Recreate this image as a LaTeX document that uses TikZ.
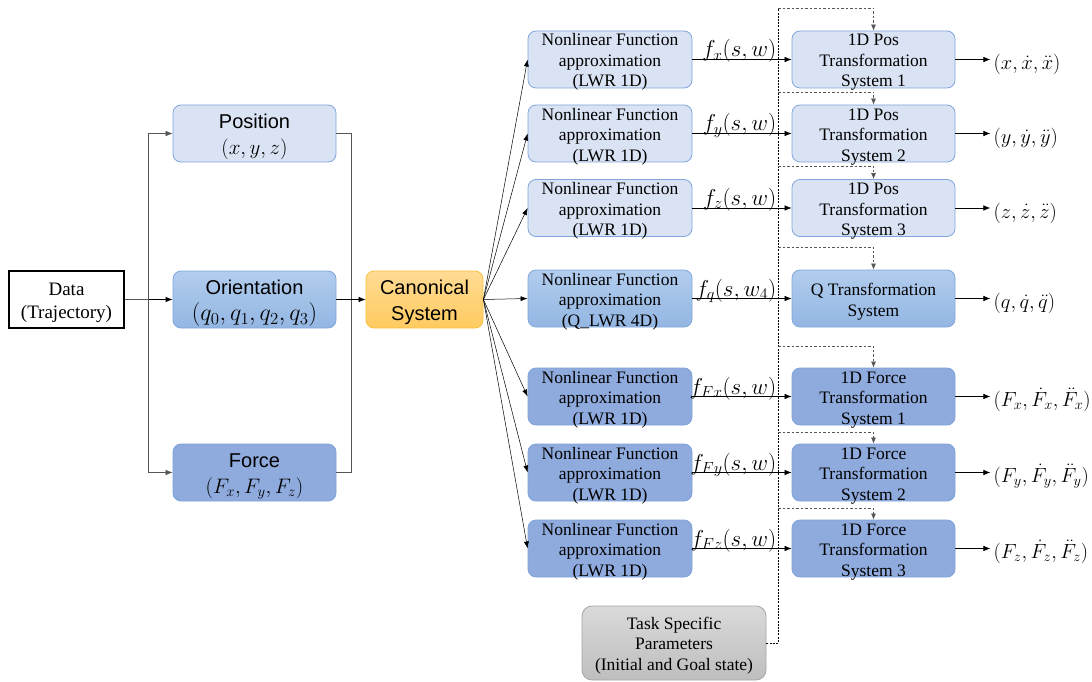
\RequirePackage{fix-cm}
\documentclass[tikz,border=0pt]{standalone}
\usepackage{fontspec}
\setmainfont{Liberation Serif}
\setsansfont{Liberation Sans}
\usetikzlibrary{arrows.meta,calc}

\definecolor{lblue}{HTML}{DAE3F3}
\definecolor{lborder}{HTML}{7FA7DC}
\definecolor{gtop}{HTML}{B2CDEE}
\definecolor{gbot}{HTML}{93B6E2}
\definecolor{fblue}{HTML}{8FAADC}
\definecolor{fborder}{HTML}{7DA2DA}
\definecolor{otop}{HTML}{FFDB94}
\definecolor{obot}{HTML}{FFCB60}
\definecolor{oborder}{HTML}{F9C23C}
\definecolor{grtop}{HTML}{DADADA}
\definecolor{grbot}{HTML}{BEBEBE}
\definecolor{grborder}{HTML}{A6A6A6}
\definecolor{wire}{HTML}{555555}

\tikzset{
  % text height/depth fix where the text block sits inside each box
  box/.style={rounded corners=8pt, minimum width=163pt, minimum height=57pt,
    inner sep=0pt, align=center, line width=0.8pt,
    text height=55pt, text depth=0pt,
    font=\fontsize{17.5}{20.5}\selectfont},
  twolines/.style={text height=35pt},
  lightbox/.style={box, draw=lborder, fill=lblue},
  gradbox/.style={box, draw=lborder, top color=gtop, bottom color=gbot},
  forcebox/.style={box, draw=fborder, fill=fblue},
  nfbox/.style={minimum width=164pt},
  sidebox/.style={font=\sffamily\fontsize{20}{26}\selectfont, text height=41pt},
  databox/.style={draw=black, fill=white, line width=1.1pt, minimum width=115pt,
    minimum height=57pt, inner sep=0pt, align=center,
    text height=37pt, text depth=0pt,
    font=\fontsize{19}{23}\selectfont},
  canonbox/.style={rounded corners=8pt, minimum width=117pt, minimum height=57pt,
    inner sep=0pt, align=center, line width=0.8pt, draw=oborder,
    text height=41pt, text depth=0pt,
    top color=otop, bottom color=obot, font=\sffamily\fontsize{20}{26}\selectfont},
  taskbox/.style={rounded corners=10pt, minimum width=184pt, minimum height=74pt,
    inner sep=0pt, align=center, line width=0.8pt, draw=grborder,
    text height=54pt, text depth=0pt,
    top color=grtop, bottom color=grbot, font=\fontsize{17.5}{20.5}\selectfont},
  arr/.style={-{Latex[length=7pt,width=5.5pt]}, line width=0.6pt, black},
  wireline/.style={line width=0.6pt, wire},
  fanline/.style={-{Latex[length=7pt,width=5pt]}, line width=0.5pt, black},
  flbl/.style={pos=1, anchor=base east, xshift=-15pt, yshift=2.5pt, inner sep=0pt,
    font=\fontsize{23}{26}\selectfont},
  outlbl/.style={anchor=base west, xshift=3pt, yshift=-10pt, inner sep=0pt,
    font=\fontsize{20.5}{24}\selectfont},
  busline/.style={line width=1pt, black, dash pattern=on 2pt off 1.2pt},
  tapline/.style={line width=0.7pt, wire, dash pattern=on 2.5pt off 2pt,
    -{Latex[length=6pt,width=5pt]}},
}

\begin{document}
\begin{tikzpicture}[x=1pt,y=-1pt]
\useasboundingbox (0,0) rectangle (1092,682);

% input data and its three channels
\node[databox] (data) at (66.5,299.5) {Data\\(Trajectory)};
\node[lightbox, sidebox] (pos) at (254.5,133.5)
  {Position\\{\fontsize{21}{26}\selectfont$(x,y,z)$}};
\node[gradbox, sidebox, text height=42pt] (ori) at (254.5,299.5)
  {Orientation\\{\fontsize{24}{26}\selectfont$(q_0,q_1,q_2,q_3)$}};
\node[forcebox, sidebox] (frc) at (254.5,472.5)
  {Force\\{\fontsize{21}{26}\selectfont$(F_x,F_y,F_z)$}};
\node[canonbox] (can) at (424.5,299.5) {Canonical\\System};

% nonlinear function approximators
\node[lightbox, nfbox] (nf1) at (610,59.5) {Nonlinear Function\\approximation\\(LWR 1D)};
\node[lightbox, nfbox] (nf2) at (610,133.5) {Nonlinear Function\\approximation\\(LWR 1D)};
\node[lightbox, nfbox] (nf3) at (610,208) {Nonlinear Function\\approximation\\(LWR 1D)};
\node[gradbox, nfbox] (nf4) at (610,298.5) {Nonlinear Function\\approximation\\(Q\_LWR 4D)};
\node[forcebox, nfbox] (nf5) at (610,396.5) {Nonlinear Function\\approximation\\(LWR 1D)};
\node[forcebox, nfbox] (nf6) at (610,472.5) {Nonlinear Function\\approximation\\(LWR 1D)};
\node[forcebox, nfbox] (nf7) at (610,548.5) {Nonlinear Function\\approximation\\(LWR 1D)};

% transformation systems
\node[lightbox] (tr1) at (873.5,59.5) {1D Pos\\Transformation\\System 1};
\node[lightbox] (tr2) at (873.5,133.5) {1D Pos\\Transformation\\System 2};
\node[lightbox] (tr3) at (873.5,208) {1D Pos\\Transformation\\System 3};
\node[gradbox, twolines] (tr4) at (873.5,298.5) {Q Transformation\\System};
\node[forcebox] (tr5) at (873.5,396.5) {1D Force\\Transformation\\System 1};
\node[forcebox] (tr6) at (873.5,472.5) {1D Force\\Transformation\\System 2};
\node[forcebox] (tr7) at (873.5,548.5) {1D Force\\Transformation\\System 3};

% task parameters
\node[taskbox] (task) at (674,643) {Task Specific\\Parameters\\(Initial and Goal state)};

% data split into the three channels
\draw[arr, line width=0.8pt] (data.east) -- (ori.west);
\draw[arr, wire] (data.east) -- ++(24,0) |- (pos.west);
\draw[arr, wire] (data.east) -- ++(24,0) |- (frc.west);
\draw[wireline] (pos.east) -- ++(15,0) |- (frc.east);
\draw[arr] (ori.east) -- (can.west);

% canonical system drives every approximator
\foreach \k in {1,...,7} {
  \draw[fanline] (can.east) -- (nf\k.west);
}

% forcing terms
\draw[arr] (nf1.east) -- node[flbl] {$f_x(s,w)$} (tr1.west);
\draw[arr] (nf2.east) -- node[flbl] {$f_y(s,w)$} (tr2.west);
\draw[arr] (nf3.east) -- node[flbl] {$f_z(s,w)$} (tr3.west);
\draw[arr] (nf4.east) -- node[flbl] {$f_q(s,w_4)$} (tr4.west);
\draw[arr] (nf5.east) -- node[flbl] {$f_{Fx}(s,w)$} (tr5.west);
\draw[arr] (nf6.east) -- node[flbl] {$f_{Fy}(s,w)$} (tr6.west);
\draw[arr] (nf7.east) -- node[flbl] {$f_{Fz}(s,w)$} (tr7.west);

% outputs
\draw[arr] (tr1.east) -- ++(35,0) node[outlbl] (o1) {$(x,\dot{x},\ddot{x})$};
\draw[arr] (tr2.east) -- ++(35,0) node[outlbl] (o2) {$(y,\dot{y},\ddot{y})$};
\draw[arr] (tr3.east) -- ++(35,0) node[outlbl] (o3) {$(z,\dot{z},\ddot{z})$};
\draw[arr] (tr4.east) -- ++(35,0) node[outlbl] (o4) {$(q,\dot{q},\ddot{q})$};
\draw[arr] (tr5.east) -- ++(35,0) node[outlbl] (o5) {$(F_x,\dot{F}_x,\ddot{F}_x)$};
\draw[arr] (tr6.east) -- ++(35,0) node[outlbl] (o6) {$(F_y,\dot{F}_y,\ddot{F}_y)$};
\draw[arr] (tr7.east) -- ++(35,0) node[outlbl] (o7) {$(F_z,\dot{F}_z,\ddot{F}_z)$};

% parameter bus feeding the transformation systems
\coordinate (tap1) at (778,8);
\coordinate (tap2) at (778,92);
\coordinate (tap3) at (778,166);
\coordinate (tap4) at (778,247);
\coordinate (tap5) at (778,346);
\coordinate (tap6) at (778,432);
\coordinate (tap7) at (778,508);
\draw[busline] (task.east) -| (tap1);
\foreach \k in {1,...,7} {
  \draw[tapline] (tap\k) -| (tr\k.north);
}
\end{tikzpicture}
\end{document}
